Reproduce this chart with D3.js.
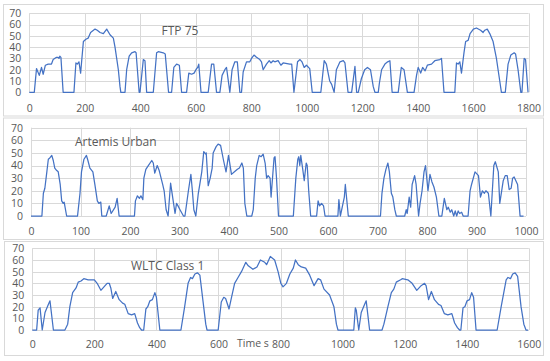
<!DOCTYPE html>
<html>
<head>
<meta charset="utf-8">
<script src="https://cdn.jsdelivr.net/npm/d3@7"></script>
<style>
  body { margin: 0; background: #fff; }
  svg { display: block; }
  .tick text { fill: #595959; font-family: "Open Sans", sans-serif; font-size: 10.5px; }
  .title { fill: #595959; font-family: "Open Sans", sans-serif; font-size: 12px; }
</style>
</head>
<body>
<div id="chart"></div>
<script>
// --- DATA (time in s, speed) ---
const ftpTime = [0,18,26,36,44,50,58,68,80,86,98,104,107,110,114,122,161,168,173,179,185,195,204,212,221,237,245,255,267,279,291,303,309,315,321,327,330,345,351,360,369,381,385,396,399,411,417,423,447,459,465,483,490,502,513,521,531,541,549,567,575,585,594,603,607,611,619,645,657,665,675,687,695,705,711,723,731,741,750,759,765,771,783,795,801,810,819,831,837,843,855,865,871,879,885,897,907,915,939,946,954,967,976,983,991,999,1011,1020,1051,1063,1071,1083,1090,1099,1107,1120,1132,1138,1149,1162,1174,1180,1186,1197,1209,1219,1230,1240,1246,1258,1262,1270,1282,1292,1300,1308,1330,1341,1351,1363,1387,1396,1402,1411,1418,1427,1435,1450,1462,1480,1486,1495,1534,1540,1546,1552,1558,1567,1573,1582,1589,1601,1612,1627,1636,1642,1651,1660,1672,1684,1690,1696,1702,1716,1726,1736,1748,1753,1762,1772,1776,1784,1789,1798];
const ftpSpeed = [0,0,21,15,22,16,24,25,25,29,31,31,30,32,31,0,0,26,25,27,17,45,47,48,53,56,55,53,52,56,51,48,40,30,20,5,0,0,20,32,35,36,35,0,0,29,28,0,0,35,36,35,34,0,0,22,25,24,0,0,17,16,17,21,22,25,0,0,25,25,0,0,15,20,22,0,20,27,27,0,0,18,27,27,30,33,31,29,27,20,25,28,26,28,27,28,24,26,25,25,0,27,29,27,22,24,21,0,0,28,25,10,7,0,20,27,28,26,0,0,23,0,0,12,20,22,20,5,0,0,8,20,25,27,28,0,0,22,20,0,0,15,22,17,22,19,24,25,28,29,30,0,0,26,25,27,17,35,45,46,52,56,57,55,53,55,56,52,45,30,20,10,0,0,25,33,35,34,20,0,0,30,29,0];
const ftpTicks = [0,200,400,600,800,1000,1200,1400,1600,1800];

const artTime = [0,22,25,28,32,35,38,42,45,48,52,55,59,62,65,67,72,94,99,102,107,112,115,119,125,129,134,137,141,143,152,158,162,170,174,178,209,211,215,219,222,226,228,232,237,244,247,250,255,259,266,269,273,277,282,288,291,294,297,301,308,311,318,323,326,329,333,338,341,345,349,353,354,358,362,366,368,374,378,383,389,394,399,405,411,417,421,426,429,432,436,446,449,453,456,461,465,469,473,476,479,483,485,491,493,496,500,530,535,539,541,543,545,549,552,556,558,561,565,577,580,583,587,591,594,620,622,625,633,635,641,706,709,713,717,721,724,728,731,735,738,755,758,760,764,767,770,775,778,783,786,790,794,797,802,806,810,814,819,824,830,835,840,843,847,850,854,857,860,863,866,870,873,883,887,890,897,904,908,912,916,919,924,929,935,938,944,947,954,958,962,966,970,973,976,983,988,995];
const artSpeed = [0,0,18,22,35,45,46,48,44,38,36,35,25,12,10,11,0,0,18,35,45,48,44,38,35,25,12,10,11,0,0,8,2,7,14,0,0,12,16,14,16,13,30,37,40,44,42,34,40,36,25,20,5,0,26,10,2,10,8,5,0,0,20,33,20,5,0,18,25,35,51,49,50,24,30,38,50,55,57,56,44,35,48,33,35,37,38,42,38,10,0,0,5,30,40,48,47,49,42,30,32,30,15,46,47,30,0,0,30,45,47,40,48,37,28,42,40,20,0,0,12,8,10,8,0,0,13,0,15,25,0,0,18,30,37,42,35,18,15,5,0,0,5,2,15,7,25,32,25,0,10,20,35,40,20,33,27,23,15,0,0,14,5,7,3,5,0,4,0,4,2,3,0,0,20,25,35,32,15,20,18,20,18,0,40,43,35,10,28,32,32,21,22,30,31,25,0,0];
const artTicks = [0,100,200,300,400,500,600,700,800,900,1000];

const wltcTime = [0,14,19,25,32,41,52,57,68,105,114,121,130,141,148,157,166,180,200,209,221,231,241,248,253,259,269,280,291,298,309,320,330,339,346,352,359,366,372,379,387,395,400,411,479,491,502,510,516,524,532,540,550,559,563,599,609,617,623,634,642,652,663,674,688,696,711,724,735,749,755,767,781,792,801,808,819,830,841,848,857,867,881,894,908,921,929,940,958,972,980,985,1031,1036,1041,1044,1052,1060,1071,1076,1087,1127,1133,1146,1157,1165,1173,1187,1192,1210,1224,1239,1253,1264,1269,1277,1286,1296,1309,1317,1328,1339,1352,1361,1370,1377,1381,1388,1394,1401,1409,1416,1422,1430,1498,1511,1527,1533,1541,1548,1556,1564,1575,1584,1591,1598];
const wltcSpeed = [0,0,17,19,0,15,22,25,0,0,5,20,32,36,41,42,44,43,43,40,34,37,40,40,36,27,33,26,23,22,14,13,14,6,2,0,0,18,20,25,26,32,28,0,0,20,40,45,44,48,49,47,25,5,0,0,24,28,27,18,28,40,45,50,58,55,52,54,60,58,56,63,60,50,40,37,40,48,53,60,56,54,53,47,38,44,43,35,30,20,5,0,0,0,19,17,0,15,22,25,0,0,5,20,32,35,41,43,44,43,40,34,38,40,38,26,33,26,22,21,14,13,14,6,2,0,0,19,20,25,26,32,28,0,0,20,43,45,44,48,49,46,20,5,0,0];
const wltcTicks = [0,200,400,600,800,1000,1200,1400,1600];

const speedTicks = [0,10,20,30,40,50,60,70];

// --- LAYOUT ---
const W = 550, H = 361;
const svg = d3.select("#chart").append("svg")
    .attr("width", W)
    .attr("height", H);

const panels = [
    { title: "FTP 75", time: ftpTime, speed: ftpSpeed, ticks: ftpTicks,
      box: [3, 4, 543, 115.5], plot: [29.3, 13.3, 528.6, 92.3], pad: 12,
      titleX: 161.5, titleY: 34.5 },
    { title: "Artemis Urban", time: artTime, speed: artSpeed, ticks: artTicks,
      box: [3, 117.5, 543, 239], plot: [31, 127.7, 526, 216], pad: 11.5,
      titleX: 75, titleY: 145.5 },
    { title: "WLTC Class 1", time: wltcTime, speed: wltcSpeed, ticks: wltcTicks,
      box: [4, 241, 543, 355], plot: [32.3, 248.3, 528.8, 330], pad: 10.5,
      titleX: 131, titleY: 270, xLabel: "Time s" }
];

panels.forEach(p => {
    const [bx0, by0, bx1, by1] = p.box;
    const [px0, py0, px1, py1] = p.plot;

    // chart frame
    svg.append("rect")
        .attr("x", bx0 + 0.5)
        .attr("y", by0 + 0.5)
        .attr("width", bx1 - bx0)
        .attr("height", by1 - by0)
        .attr("fill", "#fff")
        .attr("stroke", "#d9d9d9")
        .attr("stroke-width", 1);

    const x = d3.scaleLinear()
        .domain([p.ticks[0], p.ticks[p.ticks.length - 1]])
        .range([px0, px1]);
    const y = d3.scaleLinear()
        .domain([0, 70])
        .range([py1, py0]);

    const g = svg.append("g");

    // gridlines
    g.selectAll(".hgrid")
        .data(speedTicks)
        .enter().append("line")
        .attr("x1", px0).attr("x2", px1)
        .attr("y1", d => Math.round(y(d)) + 0.5)
        .attr("y2", d => Math.round(y(d)) + 0.5)
        .attr("stroke", "#d9d9d9");
    g.selectAll(".vgrid")
        .data(p.ticks)
        .enter().append("line")
        .attr("x1", d => Math.round(x(d)) + 0.5)
        .attr("x2", d => Math.round(x(d)) + 0.5)
        .attr("y1", py0).attr("y2", py1)
        .attr("stroke", "#d9d9d9");

    // axes (labels only)
    g.append("g")
        .attr("transform", `translate(0,${py1})`)
        .call(d3.axisBottom(x).tickValues(p.ticks).tickSize(0).tickPadding(p.pad).tickFormat(d3.format("d")))
        .call(a => a.select(".domain").remove());
    g.append("g")
        .attr("transform", `translate(${px0},0)`)
        .call(d3.axisLeft(y).tickValues(speedTicks).tickSize(0).tickPadding(8))
        .call(a => a.select(".domain").remove());

    // trace
    const pts = p.time.map((t, i) => [t, p.speed[i]]);
    g.append("path")
        .datum(pts)
        .attr("fill", "none")
        .attr("stroke", "#4472c4")
        .attr("stroke-width", 1.25)
        .attr("stroke-linejoin", "round")
        .attr("d", d3.line().x(d => x(d[0])).y(d => y(d[1])));

    g.append("text")
        .attr("class", "title")
        .attr("x", p.titleX)
        .attr("y", p.titleY)
        .text(p.title);

    if (p.xLabel) {
        g.append("text")
            .attr("class", "title")
            .style("font-size", "10.5px")
            .attr("x", 237)
            .attr("y", 347)
            .text(p.xLabel);
    }
});
</script>
</body>
</html>
